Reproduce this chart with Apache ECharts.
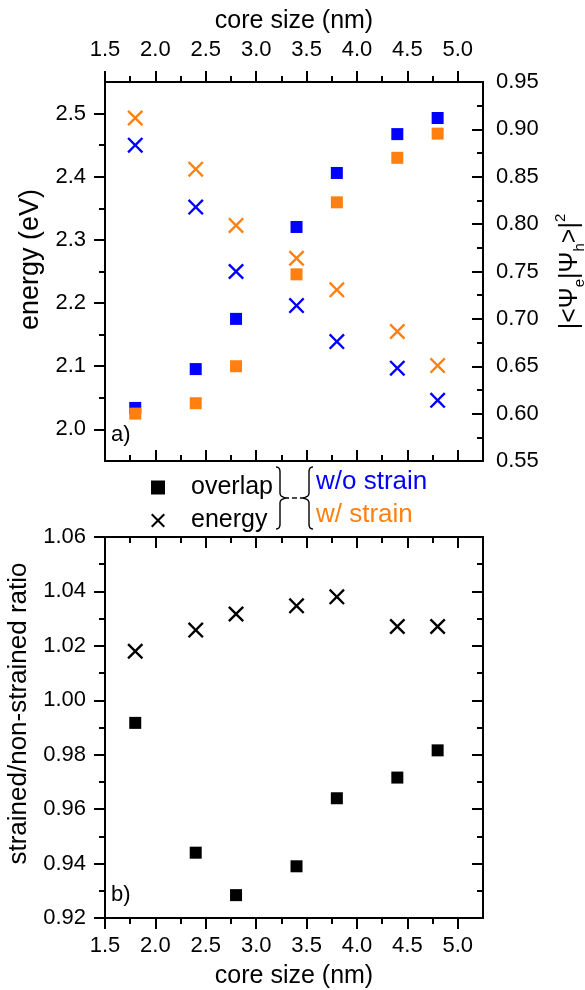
<!DOCTYPE html>
<html>
<head>
<meta charset="utf-8">
<script src="https://cdn.jsdelivr.net/npm/echarts@6/dist/echarts.min.js"></script>
<style>
html, body { margin: 0; padding: 0; background: #fff; }
#main { width: 585px; height: 990px; }
</style>
</head>
<body>
<div id="main"></div>
<script>
// core size (nm) of the seven dots
var coreSize = [1.8, 2.4, 2.8, 3.4, 3.8, 4.4, 4.8];

// panel a) energies (eV), left axis
var energyNoStrain = [2.450, 2.352, 2.250, 2.196, 2.139, 2.097, 2.046];
var energyStrain = [2.493, 2.412, 2.323, 2.271, 2.221, 2.155, 2.101];

// panel a) overlap |<Ψe|Ψh>|^2, right axis
var overlapNoStrain = [0.606, 0.647, 0.700, 0.797, 0.854, 0.895, 0.912];
var overlapStrain = [0.600, 0.611, 0.650, 0.747, 0.823, 0.870, 0.8955];

// panel b) strained / non-strained ratio
var ratioOverlap = [0.9917, 0.9440, 0.9284, 0.9390, 0.9640, 0.9716, 0.9816];
var ratioEnergy = [1.0180, 1.0258, 1.0317, 1.0347, 1.0380, 1.0271, 1.0271];

// ticks
var xMajor = [1.5, 2.0, 2.5, 3.0, 3.5, 4.0, 4.5, 5.0];
var xMinor = [1.75, 2.25, 2.75, 3.25, 3.75, 4.25, 4.75];
var energyMajor = [2.0, 2.1, 2.2, 2.3, 2.4, 2.5];
var energyMinor = [2.05, 2.15, 2.25, 2.35, 2.45];

var BLUE = '#0000ff';
var ORANGE = '#ff8010';
var FONT = 'Liberation Sans';
var CROSS = 'path://M0,1.05L1.05,0L5,3.95L8.95,0L10,1.05L6.05,5L10,8.95L8.95,10L5,6.05L1.05,10L0,8.95L3.95,5Z';

function pairs(xs, ys) {
	var r = [];
	for (var i = 0; i < xs.length; i++) {
		r.push([xs[i], ys[i]]);
	}
	return r;
}

// curly brace as a polyline: spine at xs, ends curl to xEnd, point at xTip
function brace(xs, xEnd, xTip, yTop, yMid, yBot) {
	var pts = [];
	var r = 5;
	function quad(a, b, c) {
		for (var i = 0; i <= 6; i++) {
			var t = i / 6;
			pts.push([
				(1 - t) * (1 - t) * a[0] + 2 * (1 - t) * t * b[0] + t * t * c[0],
				(1 - t) * (1 - t) * a[1] + 2 * (1 - t) * t * b[1] + t * t * c[1]
			]);
		}
	}
	quad([xEnd, yTop], [xs, yTop], [xs, yTop + r]);
	quad([xs, yMid - r], [xs, yMid], [xTip, yMid]);
	quad([xTip, yMid], [xs, yMid], [xs, yMid + r]);
	quad([xs, yBot - r], [xs, yBot], [xEnd, yBot]);
	return pts;
}

var lineStyle = { color: '#000', width: 2 };
var nameStyle = { fontSize: 25, fontFamily: FONT, color: '#000' };

// main x axis: line, major ticks, maybe labels
function xMain(grid, pos, inside, labels, margin) {
	return {
		type: 'value', gridIndex: grid, position: pos, min: 1.5, max: 5.25,
		axisLine: { show: true, onZero: false, lineStyle: lineStyle },
		axisTick: { show: true, inside: inside, length: 11, customValues: xMajor, lineStyle: lineStyle },
		axisLabel: {
			show: labels, customValues: xMajor, margin: margin,
			formatter: function(v) { return v.toFixed(1); },
			fontSize: 22, fontFamily: FONT, color: '#000'
		},
		splitLine: { show: false }
	};
}

// overlay x axis carrying only the minor ticks
function xMinorAxis(grid, pos, inside) {
	return {
		type: 'value', gridIndex: grid, position: pos, min: 1.5, max: 5.25,
		axisLine: { show: false, onZero: false },
		axisTick: { show: true, inside: inside, length: 6, customValues: xMinor, lineStyle: lineStyle },
		axisLabel: { show: false },
		splitLine: { show: false }
	};
}

var topX = xMain(0, 'top', false, true, 21);
topX.name = 'core size (nm)';
topX.nameLocation = 'middle';
topX.nameGap = 48;
topX.nameTextStyle = nameStyle;

var bottomX = xMain(1, 'bottom', false, true, 17);
bottomX.name = 'core size (nm)';
bottomX.nameLocation = 'middle';
bottomX.nameGap = 46;
bottomX.nameTextStyle = nameStyle;

var option = {
	animation: false,
	backgroundColor: '#fff',
	textStyle: { fontFamily: FONT },
	grid: [
		{ left: 105, top: 82, width: 378, height: 379, containLabel: false, outerBoundsMode: 'none' },
		{ left: 105, top: 537, width: 378, height: 381, containLabel: false, outerBoundsMode: 'none' }
	],
	legend: {
		orient: 'vertical',
		left: 146,
		top: 470,
		itemWidth: 14,
		itemHeight: 14,
		itemGap: 8,
		selectedMode: false,
		data: ['overlap', 'energy'],
		textStyle: { fontSize: 25, fontFamily: FONT, color: '#000', lineHeight: 25, padding: [0, 0, 0, 21] }
	},
	xAxis: [
		topX,
		xMinorAxis(0, 'top', false),
		xMain(0, 'bottom', true, false, 0),
		xMinorAxis(0, 'bottom', true),
		bottomX,
		xMinorAxis(1, 'bottom', false),
		xMain(1, 'top', true, false, 0),
		xMinorAxis(1, 'top', true)
	],
	yAxis: [
		{
			type: 'value', gridIndex: 0, position: 'left', min: 1.95, max: 2.55,
			name: 'energy (eV)', nameLocation: 'middle', nameGap: 58,
			nameTextStyle: { fontSize: 27, fontFamily: FONT, color: '#000', padding: [0, 0, 0, 24] },
			axisLine: { show: true, onZero: false, lineStyle: lineStyle },
			axisTick: { show: true, length: 11, customValues: energyMajor, lineStyle: lineStyle },
			axisLabel: {
				customValues: energyMajor, margin: 19,
				formatter: function(v) { return v.toFixed(1); },
				fontSize: 22, fontFamily: FONT, color: '#000'
			},
			splitLine: { show: false }
		},
		{
			type: 'value', gridIndex: 0, position: 'left', min: 1.95, max: 2.55,
			axisLine: { show: false, onZero: false },
			axisTick: { show: true, length: 6, customValues: energyMinor, lineStyle: lineStyle },
			axisLabel: { show: false },
			splitLine: { show: false }
		},
		{
			type: 'value', gridIndex: 0, position: 'right', min: 0.55, max: 0.95, interval: 0.05,
			name: '|<Ψ{e|e}|Ψ{e|h}>|{s|2}', nameLocation: 'middle', nameGap: 70, nameRotate: 90,
			nameTextStyle: {
				fontSize: 25, fontFamily: FONT, color: '#000', lineHeight: 34,
				rich: {
					e: { fontSize: 15, fontFamily: FONT, lineHeight: 15, verticalAlign: 'bottom' },
					s: { fontSize: 15, fontFamily: FONT, lineHeight: 15, verticalAlign: 'top' }
				}
			},
			axisLine: { show: true, onZero: false, lineStyle: lineStyle },
			axisTick: { show: true, inside: true, length: 11, lineStyle: lineStyle },
			minorTick: { show: true, splitNumber: 2, length: 6, lineStyle: lineStyle },
			axisLabel: {
				margin: 13,
				formatter: function(v) { return v.toFixed(2); },
				fontSize: 22, fontFamily: FONT, color: '#000'
			},
			splitLine: { show: false }
		},
		{
			type: 'value', gridIndex: 1, position: 'left', min: 0.92, max: 1.06, interval: 0.02,
			name: 'strained/non-strained ratio', nameLocation: 'middle', nameGap: 71,
			nameTextStyle: { fontSize: 26, fontFamily: FONT, color: '#000', padding: [0, 0, 0, 28] },
			axisLine: { show: true, onZero: false, lineStyle: lineStyle },
			axisTick: { show: true, length: 11, lineStyle: lineStyle },
			minorTick: { show: true, splitNumber: 2, length: 6, lineStyle: lineStyle },
			axisLabel: {
				margin: 19,
				formatter: function(v) { return v.toFixed(2); },
				fontSize: 22, fontFamily: FONT, color: '#000'
			},
			splitLine: { show: false }
		},
		{
			type: 'value', gridIndex: 1, position: 'right', min: 0.92, max: 1.06, interval: 0.02,
			axisLine: { show: true, onZero: false, lineStyle: lineStyle },
			axisTick: { show: true, inside: true, length: 11, lineStyle: lineStyle },
			minorTick: { show: true, splitNumber: 2, length: 6, lineStyle: lineStyle },
			axisLabel: { show: false },
			splitLine: { show: false }
		}
	],
	series: [
		{
			name: 'overlap w/o strain', type: 'scatter', xAxisIndex: 0, yAxisIndex: 2,
			symbol: 'rect', symbolSize: 12, itemStyle: { color: BLUE, opacity: 1 },
			data: pairs(coreSize, overlapNoStrain)
		},
		{
			name: 'overlap w/ strain', type: 'scatter', xAxisIndex: 0, yAxisIndex: 2,
			symbol: 'rect', symbolSize: 12, itemStyle: { color: ORANGE, opacity: 1 },
			data: pairs(coreSize, overlapStrain)
		},
		{
			name: 'energy w/o strain', type: 'scatter', xAxisIndex: 0, yAxisIndex: 0,
			symbol: CROSS, symbolSize: 16, itemStyle: { color: BLUE, opacity: 1 },
			data: pairs(coreSize, energyNoStrain)
		},
		{
			name: 'energy w/ strain', type: 'scatter', xAxisIndex: 0, yAxisIndex: 0,
			symbol: CROSS, symbolSize: 16, itemStyle: { color: ORANGE, opacity: 1 },
			data: pairs(coreSize, energyStrain)
		},
		{
			name: 'overlap', type: 'scatter', xAxisIndex: 4, yAxisIndex: 3,
			symbol: 'rect', symbolSize: 12, itemStyle: { color: '#000', opacity: 1 },
			data: pairs(coreSize, ratioOverlap)
		},
		{
			name: 'energy', type: 'scatter', xAxisIndex: 4, yAxisIndex: 3,
			symbol: CROSS, symbolSize: 16, itemStyle: { color: '#000', opacity: 1 },
			data: pairs(coreSize, ratioEnergy)
		}
	],
	graphic: [
		{ type: 'text', left: 111, top: 424, style: { text: 'a)', font: '22px "Liberation Sans"', fill: '#000' } },
		{ type: 'text', left: 111, top: 884, style: { text: 'b)', font: '22px "Liberation Sans"', fill: '#000' } },
		// braces joining the legend to the colour key
		{
			type: 'polyline',
			shape: { points: brace(280, 276, 289, 467, 498, 529) },
			style: { stroke: '#000', lineWidth: 1.4, fill: null }
		},
		{
			type: 'line',
			shape: { x1: 292, y1: 498, x2: 297, y2: 498 },
			style: { stroke: '#000', lineWidth: 1.4 }
		},
		{
			type: 'polyline',
			shape: { points: brace(309, 313, 300, 467, 498, 529) },
			style: { stroke: '#000', lineWidth: 1.4, fill: null }
		},
		{ type: 'text', left: 316, top: 469, style: { text: 'w/o strain', font: '26px "Liberation Sans"', fill: BLUE } },
		{ type: 'text', left: 316, top: 502, style: { text: 'w/ strain', font: '26px "Liberation Sans"', fill: ORANGE } }
	]
};

var myChart = echarts.init(document.getElementById('main'));
myChart.setOption(option);
</script>
</body>
</html>
